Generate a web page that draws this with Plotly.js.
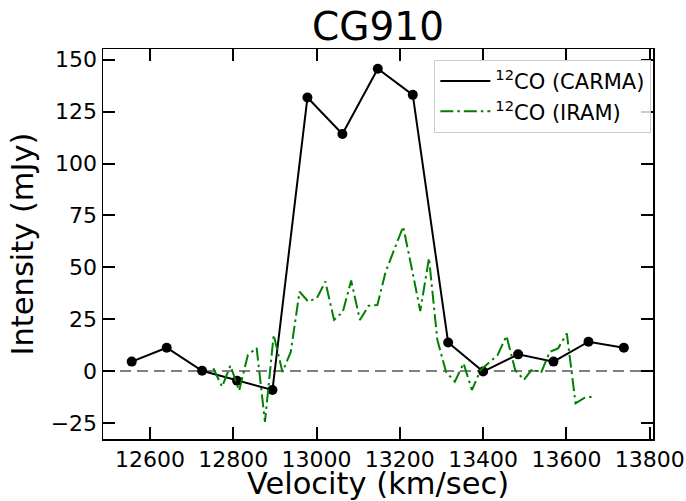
<!DOCTYPE html>
<html>
<head>
<meta charset="utf-8">
<script src="https://cdn.plot.ly/plotly-3.0.1.min.js"></script>
<style>
  html, body { margin: 0; padding: 0; background: #ffffff; }
  #chart { width: 686px; height: 501px; }
</style>
</head>
<body>
<div id="chart"></div>
<script>
// CARMA 12CO spectrum (velocity km/s, intensity mJy)
const carmaVelocity = [12556, 12640, 12725, 12809, 12894, 12978, 13062, 13147, 13231, 13316, 13400, 13484, 13569, 13653, 13738];
const carmaIntensity = [4.5, 11.2, 0.1, -4.7, -9.2, 131.8, 114.2, 145.7, 133.1, 13.7, -0.3, 8.0, 4.5, 14.1, 11.2];

// IRAM 12CO spectrum (velocity km/s, intensity mJy)
const iramVelocity = [12752, 12773, 12793, 12814, 12835, 12856, 12876, 12897, 12918, 12938,
                      12959, 12980, 13001, 13021, 13042, 13063, 13083, 13104, 13125, 13146,
                      13166, 13187, 13208, 13228, 13249, 13270, 13290, 13311, 13332, 13353,
                      13373, 13394, 13415, 13435, 13456, 13477, 13498, 13518, 13539, 13560,
                      13580, 13601, 13622, 13643, 13663];
const iramIntensity = [1.3, -7.6, 2.6, -9.5, 7.7, 11.1, -24.5, 17.4, -0.5, 9.2,
                       38.2, 33.4, 35.2, 43.1, 24.6, 28.5, 43.6, 24.6, 31.4, 31.8,
                       47.9, 58.9, 69.6, 50.0, 28.9, 54.4, 15.0, -0.5, -5.2, 3.7,
                       -9.2, 0.5, 4.3, 7.7, 16.9, 0.5, -4.3, 1.0, -1.0, 9.2,
                       10.9, 18.1, -15.6, -13.0, -12.4];

const seriesNames = ['<sup>12</sup>CO (CARMA)', '<sup>12</sup>CO (IRAM)'];
const chartTitle = 'CG910';
const xTitle = 'Velocity (km/sec)';
const yTitle = 'Intensity (mJy)';
const xTickValues = [12600, 12800, 13000, 13200, 13400, 13600, 13800];
const yTickValues = [-25, 0, 25, 50, 75, 100, 125, 150];

const FONT = 'DejaVu Sans, sans-serif';

const traces = [
  {
    x: carmaVelocity, y: carmaIntensity,
    type: 'scatter', mode: 'lines',
    name: seriesNames[0], legendgroup: 'a',
    line: { color: '#000000', width: 2 },
    showlegend: true
  },
  {
    x: carmaVelocity, y: carmaIntensity,
    type: 'scatter', mode: 'markers',
    name: seriesNames[0], legendgroup: 'a',
    marker: { color: '#000000', size: 10 },
    showlegend: false
  },
  {
    x: iramVelocity, y: iramIntensity,
    type: 'scatter', mode: 'lines',
    name: seriesNames[1], legendgroup: 'b',
    line: { color: '#008000', width: 2, dash: '13px,4px,2.5px,4px' },
    showlegend: true
  }
];

const axisCommon = {
  showgrid: false, zeroline: false,
  showline: true, linecolor: '#000000', linewidth: 1.5,
  mirror: 'ticks', ticks: 'inside', ticklen: 12, tickwidth: 2, tickcolor: '#000000',
  tickfont: { family: FONT, size: 22, color: '#000000' },
  automargin: false
};

const layout = {
  width: 686, height: 501,
  margin: { l: 103, r: 33, t: 49, b: 62, pad: 0 },
  paper_bgcolor: '#ffffff', plot_bgcolor: '#ffffff',
  font: { family: FONT, color: '#000000' },
  title: {
    text: chartTitle,
    font: { family: FONT, size: 39, color: '#000000' },
    x: 0.5, xref: 'paper', xanchor: 'center',
    y: 1 - 26 / 501, yref: 'container', yanchor: 'middle'
  },
  xaxis: Object.assign({}, axisCommon, {
    range: [12487, 13808],
    tickvals: xTickValues,
    tickformat: 'd',
    title: { text: xTitle, font: { family: FONT, size: 30.5, color: '#000000' }, standoff: 7 }
  }),
  yaxis: Object.assign({}, axisCommon, {
    range: [-32.8, 155.2],
    tickvals: yTickValues,
    title: { text: yTitle, font: { family: FONT, size: 30.5, color: '#000000' }, standoff: 8 }
  }),
  shapes: [
    {
      type: 'line', xref: 'paper', yref: 'y', x0: 0, x1: 1, y0: 0, y1: 0,
      line: { color: '#808080', width: 2, dash: '11px,6px' }, layer: 'below'
    }
  ],
  legend: {
    x: 0.997, xanchor: 'right', y: 0.972, yanchor: 'top',
    bgcolor: 'rgba(255,255,255,0.8)', bordercolor: '#cccccc', borderwidth: 1,
    font: { family: FONT, size: 21, color: '#000000' },
    itemwidth: 50,
    tracegroupgap: 0
  },
  showlegend: true
};

Plotly.newPlot('chart', traces, layout, { staticPlot: true, displayModeBar: false });
</script>
</body>
</html>
